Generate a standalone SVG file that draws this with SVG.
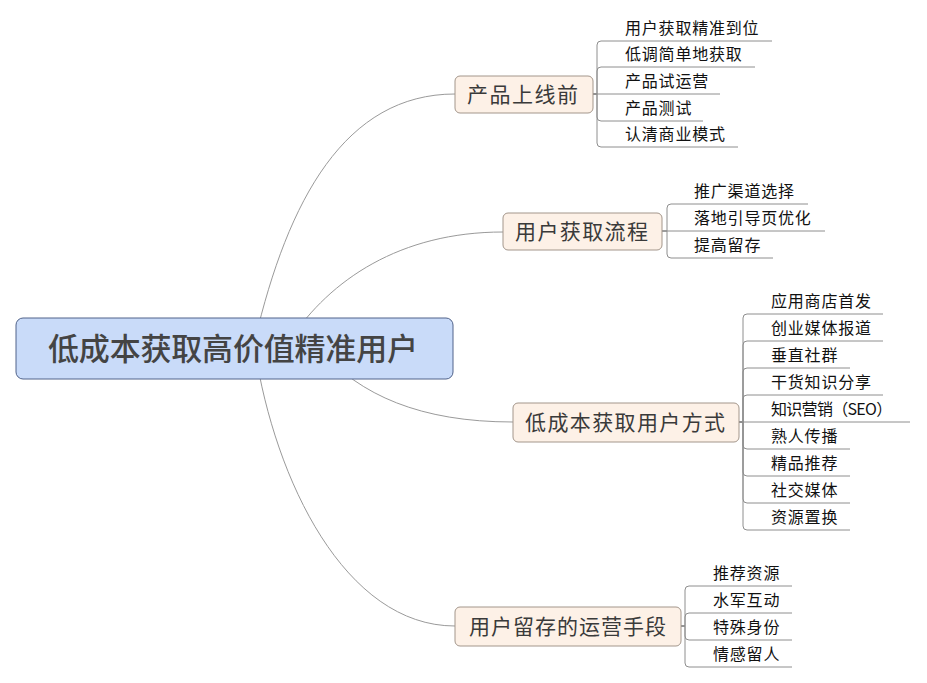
<svg xmlns="http://www.w3.org/2000/svg" width="927" height="683" viewBox="0 0 927 683">
<style>
.conn{fill:none;stroke:#9a9a9a;stroke-width:1}
.leafline{fill:none;stroke:#8e8e8e;stroke-width:1}
.root rect{fill:#c9dbf9;stroke:#50628a;stroke-width:1}
.node rect{fill:#fdf1e7;stroke:#a3968b;stroke-width:1}
.root text{font-family:"Noto Sans CJK SC","Noto Sans",sans-serif;font-size:31px;font-weight:500;fill:#444}
.node text{font-family:"Noto Sans CJK SC","Noto Sans",sans-serif;font-size:21px;fill:#3a3a3a}
.leaf text{font-family:"Noto Sans CJK SC","Noto Sans",sans-serif;font-size:16px;fill:#111;letter-spacing:0.8px}
</style>
<rect width="927" height="683" fill="#fff"/>
<g id="connectors">
<path class="conn" d="M255 340 C288 200 345 94 455 94"/>
<path class="conn" d="M290 340 C330 280 400 232 503 232"/>
<path class="conn" d="M320 350 C360 395 420 422 513 422"/>
<path class="conn" d="M255 350 C275 480 345 626 455 626"/>
<!-- N1 leaves -->
<path class="leafline" d="M593 94 H597 V45 Q597 41 601 41 H772"/>
<path class="leafline" d="M593 94 H597 V71 Q597 67 601 67 H755"/>
<path class="leafline" d="M593 94 H720"/>
<path class="leafline" d="M593 94 H597 V117 Q597 121 601 121 H703"/>
<path class="leafline" d="M593 94 H597 V143 Q597 147 601 147 H738"/>
<!-- N2 leaves -->
<path class="leafline" d="M662 231 H667 V208 Q667 204 671 204 H808"/>
<path class="leafline" d="M662 231 H825"/>
<path class="leafline" d="M662 231 H667 V254 Q667 258 671 258 H773"/>
<!-- N3 leaves -->
<path class="leafline" d="M739 422 H743 V318 Q743 314 747 314 H883"/>
<path class="leafline" d="M739 422 H743 V345 Q743 341 747 341 H883"/>
<path class="leafline" d="M739 422 H743 V372 Q743 368 747 368 H850"/>
<path class="leafline" d="M739 422 H743 V399 Q743 395 747 395 H883"/>
<path class="leafline" d="M739 422 H910"/>
<path class="leafline" d="M739 422 H743 V445 Q743 449 747 449 H850"/>
<path class="leafline" d="M739 422 H743 V472 Q743 476 747 476 H850"/>
<path class="leafline" d="M739 422 H743 V499 Q743 503 747 503 H850"/>
<path class="leafline" d="M739 422 H743 V526 Q743 530 747 530 H850"/>
<!-- N4 leaves -->
<path class="leafline" d="M681 626 H685 V590 Q685 586 689 586 H792"/>
<path class="leafline" d="M681 626 H685 V617 Q685 613 689 613 H792"/>
<path class="leafline" d="M681 626 H685 V636 Q685 640 689 640 H792"/>
<path class="leafline" d="M681 626 H685 V663 Q685 667 689 667 H792"/>
</g>
<g id="root" class="root">
<rect x="16" y="318" width="437" height="61" rx="7"/>
<text x="48" y="360" textLength="370" lengthAdjust="spacing">低成本获取高价值精准用户</text>
</g>
<g id="n1" class="node">
<rect x="455" y="76" width="138" height="37" rx="5"/>
<text x="467" y="102" textLength="111" lengthAdjust="spacing">产品上线前</text>
</g>
<g id="n2" class="node">
<rect x="503" y="213" width="159" height="37" rx="5"/>
<text x="515" y="239" textLength="133" lengthAdjust="spacing">用户获取流程</text>
</g>
<g id="n3" class="node">
<rect x="513" y="403" width="226" height="39" rx="5"/>
<text x="525" y="430" textLength="200" lengthAdjust="spacing">低成本获取用户方式</text>
</g>
<g id="n4" class="node">
<rect x="455" y="607" width="226" height="39" rx="5"/>
<text x="469" y="634" textLength="197" lengthAdjust="spacing">用户留存的运营手段</text>
</g>
<g id="n1-leaves" class="leaf">
<text x="625" y="34">用户获取精准到位</text>
<text x="625" y="60">低调简单地获取</text>
<text x="625" y="87">产品试运营</text>
<text x="625" y="114">产品测试</text>
<text x="625" y="140">认清商业模式</text>
</g>
<g id="n2-leaves" class="leaf">
<text x="694" y="197">推广渠道选择</text>
<text x="694" y="224">落地引导页优化</text>
<text x="694" y="251">提高留存</text>
</g>
<g id="n3-leaves" class="leaf">
<text x="771" y="307">应用商店首发</text>
<text x="771" y="334">创业媒体报道</text>
<text x="771" y="361">垂直社群</text>
<text x="771" y="388">干货知识分享</text>
<text x="771" y="415" textLength="122" lengthAdjust="spacing">知识营销（SEO）</text>
<text x="771" y="442">熟人传播</text>
<text x="771" y="469">精品推荐</text>
<text x="771" y="496">社交媒体</text>
<text x="771" y="523">资源置换</text>
</g>
<g id="n4-leaves" class="leaf">
<text x="713" y="579">推荐资源</text>
<text x="713" y="606">水军互动</text>
<text x="713" y="633">特殊身份</text>
<text x="713" y="660">情感留人</text>
</g>
</svg>
